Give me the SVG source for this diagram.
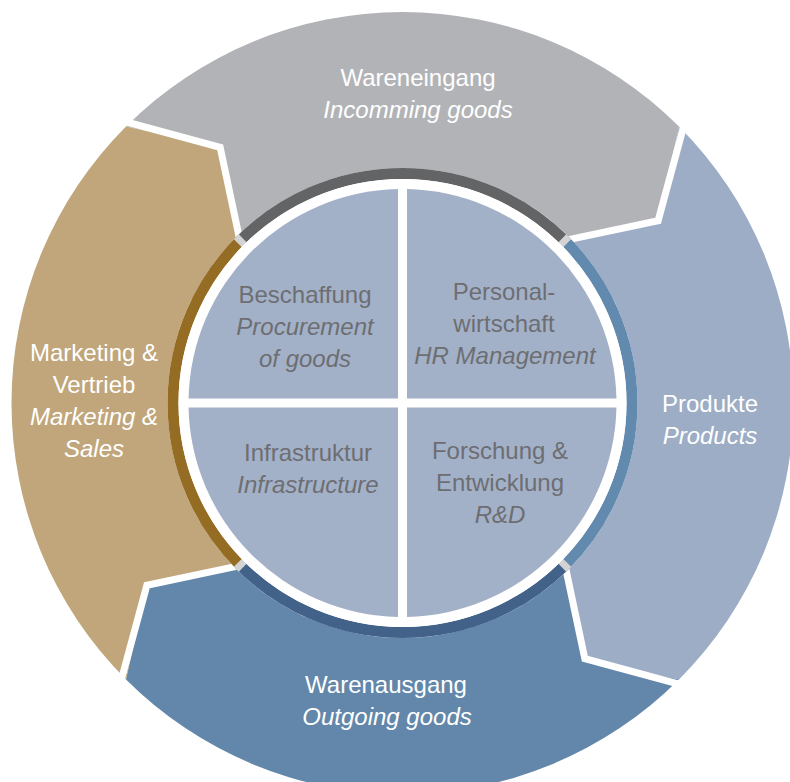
<svg xmlns="http://www.w3.org/2000/svg" width="790" height="782" viewBox="0 0 790 782">
<style>
text{font-family:"Liberation Sans",Arial,sans-serif;font-size:24px;text-anchor:middle}
.o{fill:#ffffff}
.i{fill:#6d6e72}
.it{font-style:italic}
.sep{fill:none;stroke:#ffffff;stroke-width:7;stroke-linejoin:miter}
.arc{fill:none;stroke-width:11}
.jn{stroke:#d3d3d3;stroke-width:7}
.q{fill:#a3b1c8}
</style>
<rect width="790" height="782" fill="#ffffff"/>
<g transform="translate(402.5,403)">
  <g id="wareneingang">
    <path d="M-276.48,-276.48 A391,391 0 0 1 276.48,-276.48 L255.63,-182.34 L166.17,-166.17 A235,235 0 0 0 -166.17,-166.17 L-182.34,-255.63 Z" fill="#b2b3b7"/>
  </g>
  <g id="produkte">
    <path d="M276.48,-276.48 A391,391 0 0 1 276.48,276.48 L182.34,255.63 L166.17,166.17 A235,235 0 0 0 166.17,-166.17 L255.63,-182.34 Z" fill="#9cadc5"/>
  </g>
  <g id="warenausgang">
    <path d="M276.48,276.48 A391,391 0 0 1 -276.48,276.48 L-255.63,182.34 L-166.17,166.17 A235,235 0 0 0 166.17,166.17 L182.34,255.63 Z" fill="#6287aa"/>
  </g>
  <g id="marketing">
    <path d="M-276.48,276.48 A391,391 0 0 1 -276.48,-276.48 L-182.34,-255.63 L-166.17,-166.17 A235,235 0 0 0 -166.17,166.17 L-255.63,182.34 Z" fill="#c0a67a"/>
  </g>
  <g id="separators">
    <polyline class="sep" points="-282.84,-282.84 -182.34,-255.63 -162.6,-162.6"/>
    <polyline class="sep" points="282.84,-282.84 255.63,-182.34 162.6,-162.6"/>
    <polyline class="sep" points="282.84,282.84 182.34,255.63 162.6,162.6"/>
    <polyline class="sep" points="-282.84,282.84 -255.63,182.34 -162.6,162.6"/>
  </g>
  <g id="ring">
    <path class="arc" stroke="#636466" d="M-162.28,-162.28 A229.5,229.5 0 0 1 162.28,-162.28"/>
    <path class="arc" stroke="#6289ae" d="M162.28,-162.28 A229.5,229.5 0 0 1 162.28,162.28"/>
    <path class="arc" stroke="#42628a" d="M162.28,162.28 A229.5,229.5 0 0 1 -162.28,162.28"/>
    <path class="arc" stroke="#946c24" d="M-162.28,162.28 A229.5,229.5 0 0 1 -162.28,-162.28"/>
    <line class="jn" x1="-158.39" y1="-158.39" x2="-166.17" y2="-166.17"/>
    <line class="jn" x1="158.39" y1="-158.39" x2="166.17" y2="-166.17"/>
    <line class="jn" x1="158.39" y1="158.39" x2="166.17" y2="166.17"/>
    <line class="jn" x1="-158.39" y1="158.39" x2="-166.17" y2="166.17"/>
    <circle r="224" fill="#ffffff"/>
  </g>
</g>
<g id="beschaffung">
  <path class="q" d="M398,398.5 L398,189.05 A214,214 0 0 0 188.55,398.5 Z"/>
  <text class="i" x="305" y="303">Beschaffung</text>
  <text class="i it" x="305" y="335">Procurement</text>
  <text class="i it" x="305" y="367">of goods</text>
</g>
<g id="personalwirtschaft">
  <path class="q" d="M407,398.5 L616.45,398.5 A214,214 0 0 0 407,189.05 Z"/>
  <text class="i" x="504" y="300">Personal-</text>
  <text class="i" x="504" y="332">wirtschaft</text>
  <text class="i it" x="505" y="364">HR Management</text>
</g>
<g id="infrastruktur">
  <path class="q" d="M398,407.5 L188.55,407.5 A214,214 0 0 0 398,616.95 Z"/>
  <text class="i" x="308" y="461">Infrastruktur</text>
  <text class="i it" x="308" y="493">Infrastructure</text>
</g>
<g id="forschung">
  <path class="q" d="M407,407.5 L407,616.95 A214,214 0 0 0 616.45,407.5 Z"/>
  <text class="i" x="500" y="459">Forschung &amp;</text>
  <text class="i" x="500" y="491">Entwicklung</text>
  <text class="i it" x="500" y="523">R&amp;D</text>
</g>
<g id="labels">
  <text class="o" x="418" y="86">Wareneingang</text>
  <text class="o it" x="418" y="118">Incomming goods</text>
  <text class="o" x="710" y="412">Produkte</text>
  <text class="o it" x="710" y="444">Products</text>
  <text class="o" x="386" y="693">Warenausgang</text>
  <text class="o it" x="387" y="725">Outgoing goods</text>
  <text class="o" x="94" y="361">Marketing &amp;</text>
  <text class="o" x="94" y="393">Vertrieb</text>
  <text class="o it" x="94" y="425">Marketing &amp;</text>
  <text class="o it" x="94" y="457">Sales</text>
</g>
<g id="connectors"/>
</svg>
